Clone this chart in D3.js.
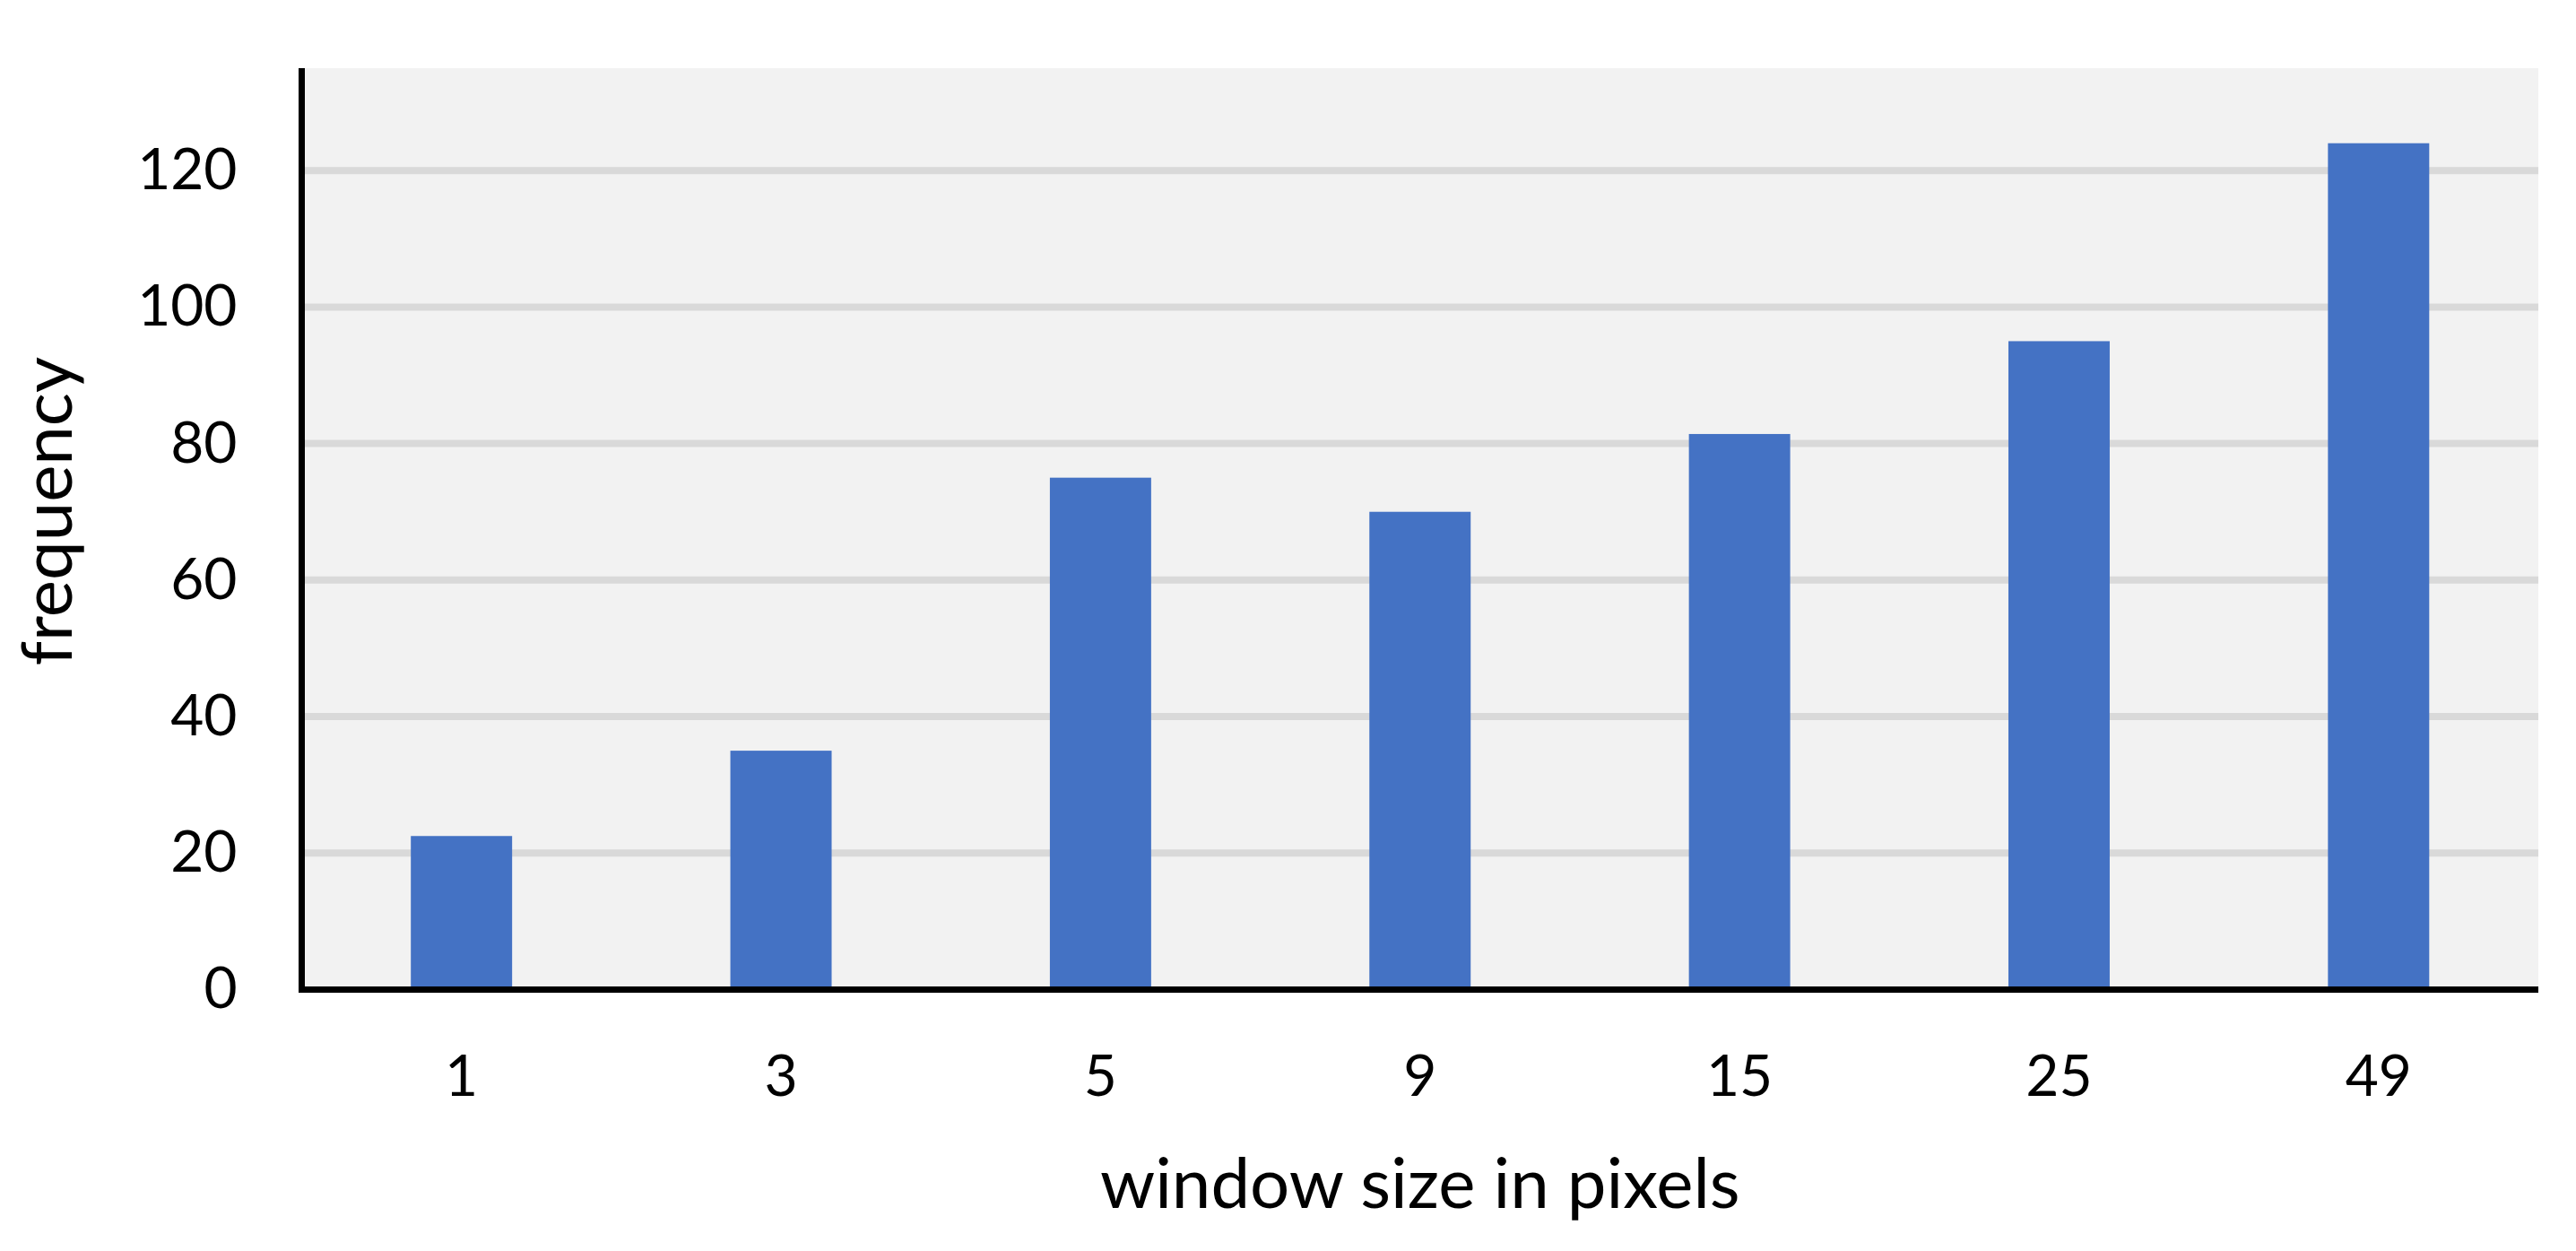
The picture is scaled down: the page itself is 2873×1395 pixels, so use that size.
<!DOCTYPE html>
<html>
<head>
<meta charset="utf-8">
<script src="https://cdn.jsdelivr.net/npm/d3@7"></script>
<style>
  body { margin: 0; background: #fff; }
  text { font-family: Lato, "Open Sans", sans-serif; fill: #000; }
</style>
</head>
<body>
<svg id="chart" width="2873" height="1395"></svg>
<script>
'use strict';
// window sizes (categories) and how often each was picked
let windowSizes = ['1', '3', '5', '9', '15', '25', '49'];
let frequencies = [22.5, 35, 75, 70, 81.4, 95, 124];
let yTicks = [0, 20, 40, 60, 80, 100, 120];
let yMax = 135;

let svg = d3.select("#chart"),
    margin = {top: 76, right: 42, bottom: 291.5, left: 336.5},
    width = +svg.attr("width") - margin.left - margin.right,
    height = +svg.attr("height") - margin.top - margin.bottom;

let x = d3.scaleBand()
    .domain(windowSizes)
    .range([margin.left, margin.left + width])
    .paddingInner(0.683)
    .paddingOuter(0.3415);

let y = d3.scaleLinear()
    .domain([0, yMax])
    .range([margin.top + height, margin.top]);

// plot area background
svg.append("rect")
    .attr("x", margin.left)
    .attr("y", margin.top)
    .attr("width", width)
    .attr("height", height)
    .attr("fill", "#f2f2f2");

// horizontal gridlines
svg.append("g")
    .selectAll("line")
    .data(yTicks.filter(d => d > 0))
    .enter().append("line")
        .attr("x1", margin.left)
        .attr("x2", margin.left + width)
        .attr("y1", d => y(d))
        .attr("y2", d => y(d))
        .attr("stroke", "#d9d9d9")
        .attr("stroke-width", 8);

// bars
svg.append("g")
    .selectAll("rect")
    .data(frequencies)
    .enter().append("rect")
        .attr("x", (d, i) => x(windowSizes[i]))
        .attr("y", d => y(d))
        .attr("width", x.bandwidth())
        .attr("height", d => y(0) - y(d))
        .attr("fill", "#4472c4");

// tick labels
let yAxis = svg.append("g")
    .attr("transform", "translate(" + margin.left + ",0)")
    .call(d3.axisLeft(y).tickValues(yTicks).tickSize(0).tickPadding(72));
yAxis.select(".domain").remove();

let xAxis = svg.append("g")
    .attr("transform", "translate(0," + y(0) + ")")
    .call(d3.axisBottom(x).tickSize(0).tickPadding(73));
xAxis.select(".domain").remove();

svg.selectAll(".tick text")
    .style("font-family", "Lato, 'Open Sans', sans-serif")
    .style("font-size", "64px")
    .attr("fill", "#000");

// axis lines
svg.append("line")
    .attr("x1", margin.left - 3.5)
    .attr("x2", margin.left + width)
    .attr("y1", y(0))
    .attr("y2", y(0))
    .attr("stroke", "#000")
    .attr("stroke-width", 7);
svg.append("line")
    .attr("x1", margin.left)
    .attr("x2", margin.left)
    .attr("y1", margin.top)
    .attr("y2", y(0) + 3.5)
    .attr("stroke", "#000")
    .attr("stroke-width", 7);

// axis titles
svg.append("text")      // x-axis title
    .attr("x", margin.left + width / 2)
    .attr("y", 1347)
    .style("text-anchor", "middle")
    .style("font-size", "78px")
    .text("window size in pixels");

svg.append("text")      // y-axis title
    .attr("transform", "translate(80,570) rotate(-90)")
    .style("text-anchor", "middle")
    .style("font-size", "78px")
    .text("frequency");
</script>
</body>
</html>
